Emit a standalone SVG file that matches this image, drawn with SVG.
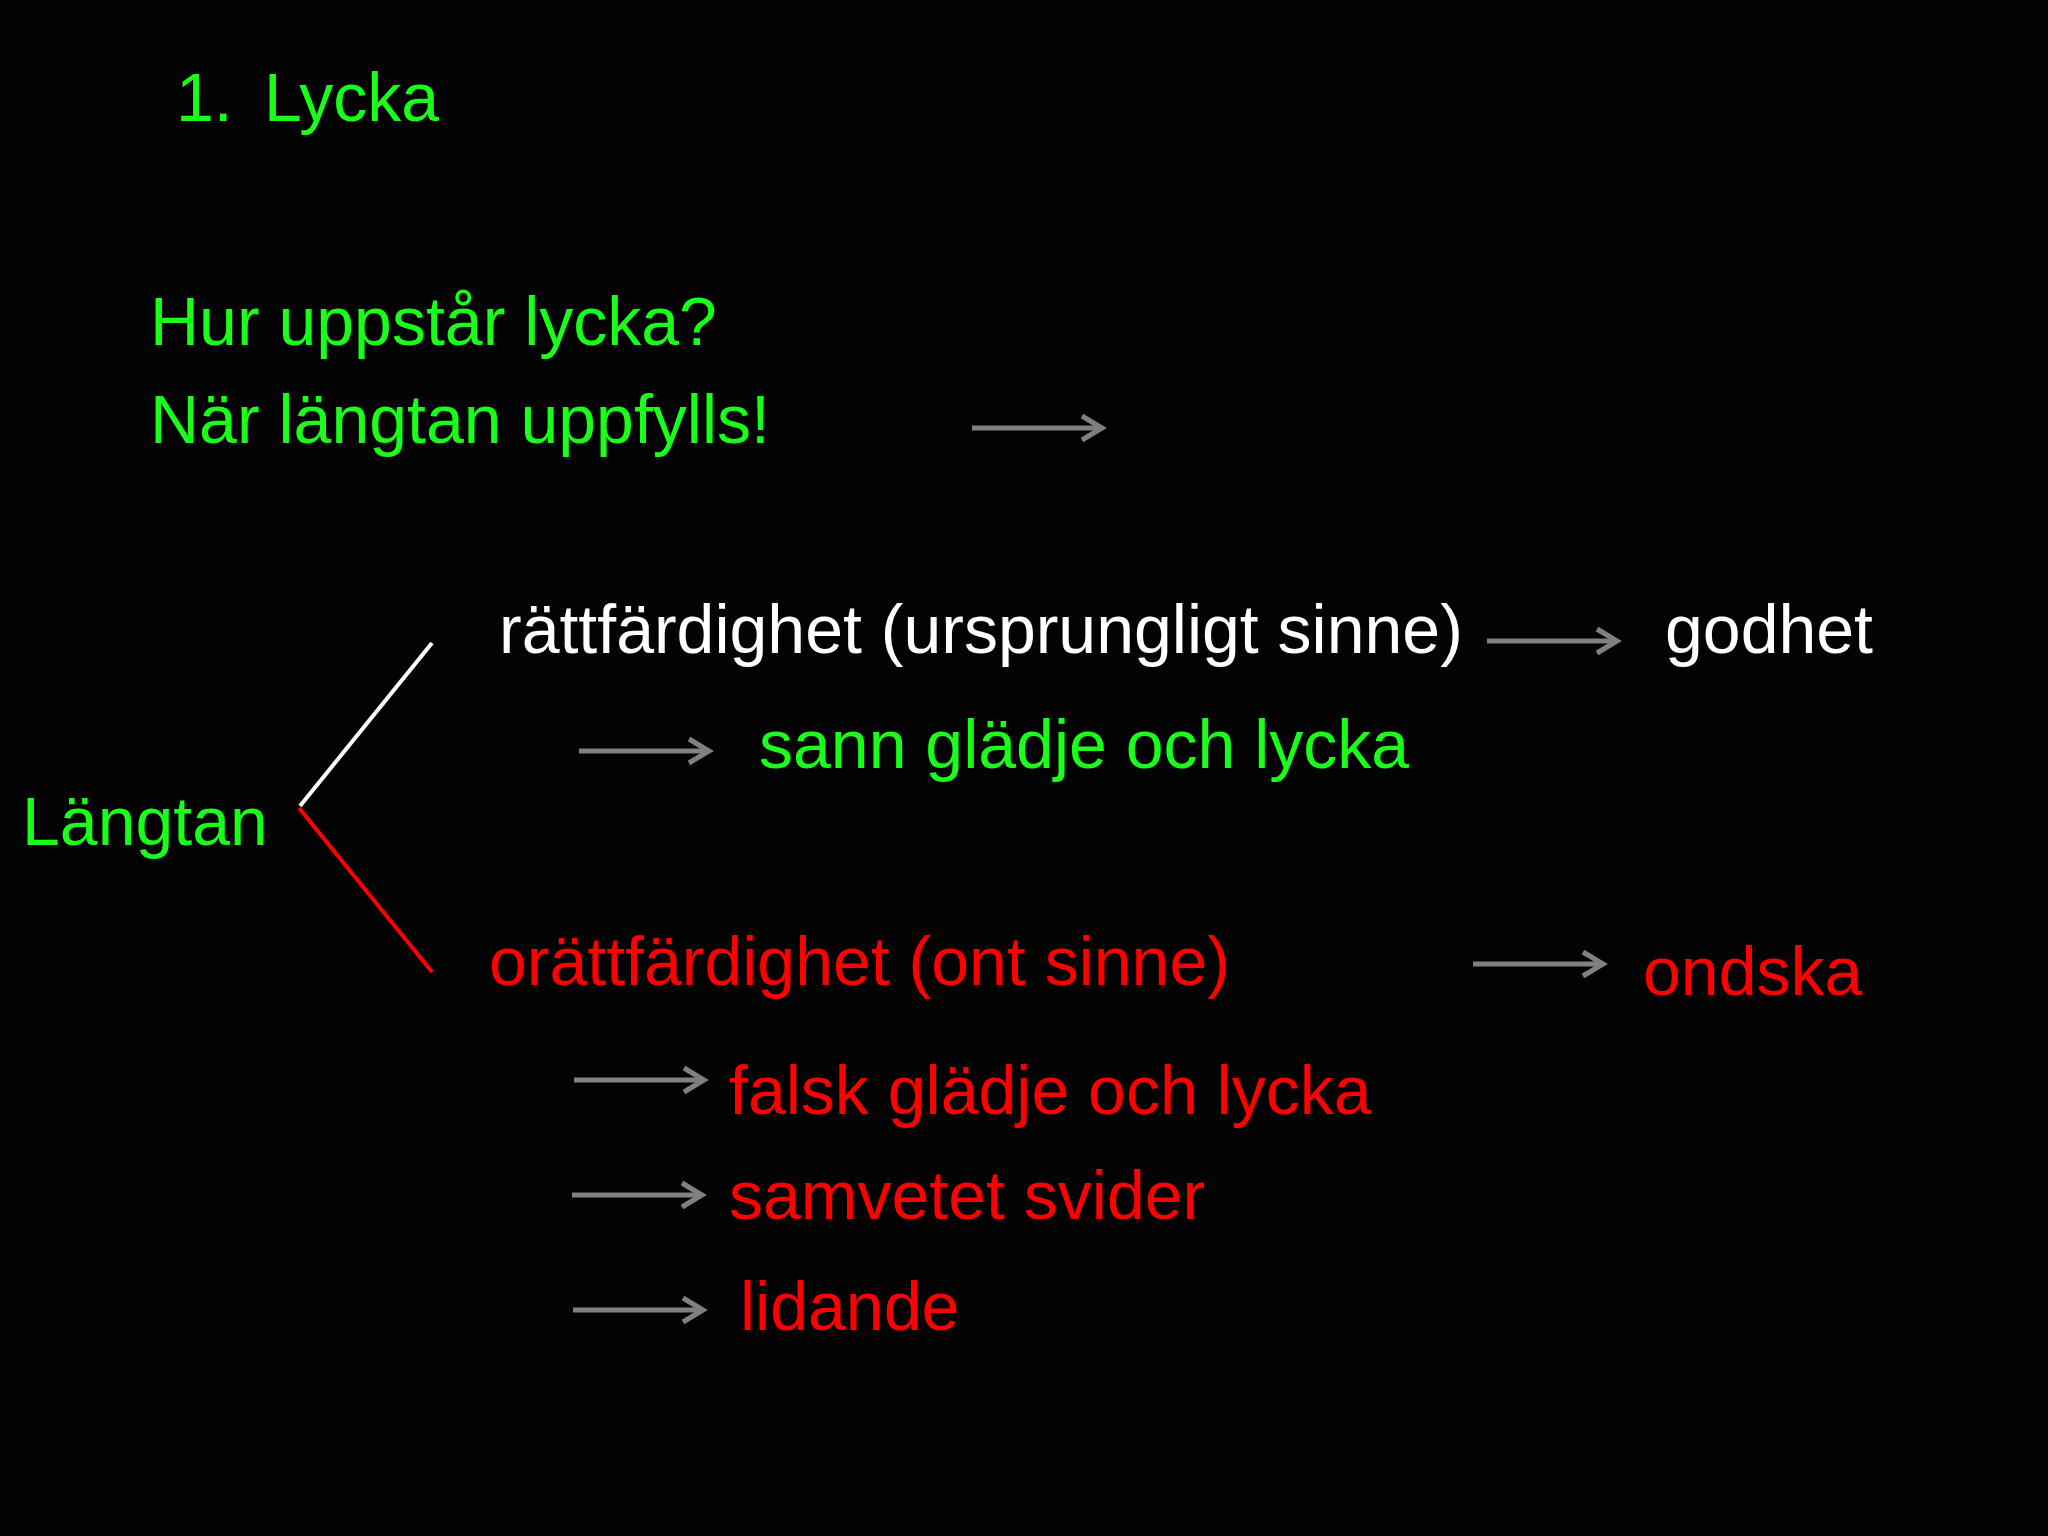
<svg xmlns="http://www.w3.org/2000/svg" xmlns:xlink="http://www.w3.org/1999/xlink" width="2048" height="1536" viewBox="0 0 2048 1536">
<style>
text{font-family:"Liberation Sans",Arial,sans-serif;font-size:68px}
.g{fill:#1aff1a}.r{fill:#ff0000}.w{fill:#ffffff}
.arr line,.arr polyline{stroke:#808080;stroke-width:5;fill:none}
</style>
<defs>
<g id="arr" class="arr">
<line x1="0" y1="0" x2="128" y2="0"/>
<polyline points="110,-12 130,0 110,12"/>
</g>
</defs>
<rect width="2048" height="1536" fill="#030303"/>
<g id="title"><text class="g" x="176" y="121">1.</text><text class="g" x="264" y="121">Lycka</text></g>
<g id="question"><text class="g" x="150" y="345">Hur uppstår lycka?</text></g>
<g id="answer"><text class="g" x="150" y="443">När längtan uppfylls!</text></g>
<g id="langtan"><text class="g" x="22" y="845">Längtan</text></g>
<g id="ratt"><text class="w" x="499" y="653">rättfärdighet (ursprungligt sinne)</text></g>
<g id="godhet"><text class="w" x="1665" y="653">godhet</text></g>
<g id="sann"><text class="g" x="759" y="768">sann glädje och lycka</text></g>
<g id="oratt"><text class="r" x="489" y="985">orättfärdighet (ont sinne)</text></g>
<g id="ondska"><text class="r" x="1643" y="995">ondska</text></g>
<g id="falsk"><text class="r" x="729" y="1114">falsk glädje och lycka</text></g>
<g id="samvetet"><text class="r" x="729" y="1219">samvetet svider</text></g>
<g id="lidande"><text class="r" x="740" y="1330">lidande</text></g>
<g id="connectors">
<line x1="300" y1="806" x2="432" y2="643" stroke="#ffffff" stroke-width="4"/>
<line x1="299" y1="808" x2="432" y2="972" stroke="#ff0000" stroke-width="4"/>
<use xlink:href="#arr" x="972" y="428"/>
<use xlink:href="#arr" x="1487" y="641"/>
<use xlink:href="#arr" x="579" y="751"/>
<use xlink:href="#arr" x="1473" y="964"/>
<use xlink:href="#arr" x="574" y="1080"/>
<use xlink:href="#arr" x="572" y="1195"/>
<use xlink:href="#arr" x="573" y="1310"/>
</g>
</svg>
